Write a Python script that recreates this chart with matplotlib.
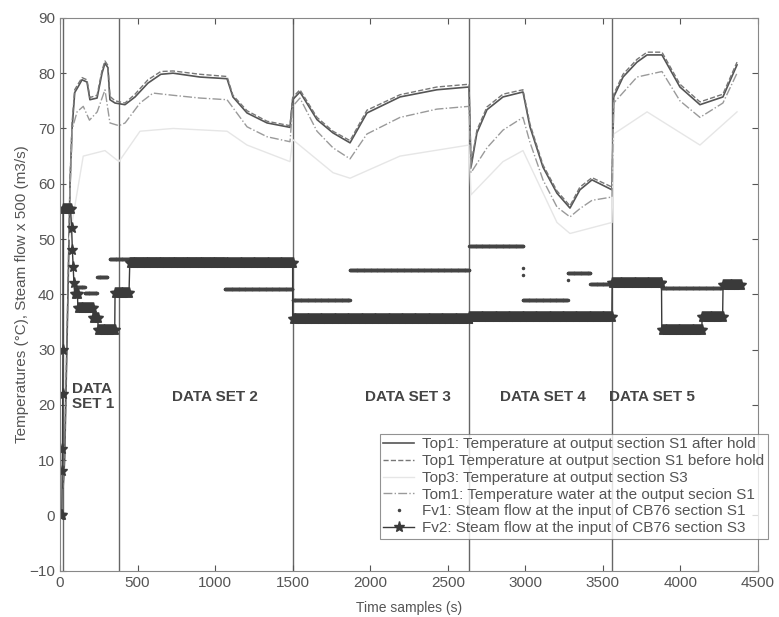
import matplotlib
matplotlib.use("Agg")
import matplotlib.pyplot as plt
import numpy as np

plt.rcParams['font.family'] = ['Liberation Sans', 'DejaVu Sans']

# --- temperatures ---
top1_t = [20, 30, 50, 65, 78, 95, 116, 142, 174, 193, 239, 271, 290, 309, 322, 355,
          419, 484, 567, 650, 729, 903, 1077, 1115, 1206, 1335, 1483,
          1500, 1547, 1657, 1760, 1870, 1979, 2192, 2430, 2637,
          2650, 2688, 2753, 2856, 2985, 3030, 3114, 3204, 3288, 3352, 3430, 3559,
          3570, 3630, 3720, 3785, 3881, 3997, 4126, 4274, 4365]
top1_after = [5, 10, 38, 60, 70, 76.5, 77.5, 78.8, 78.4, 75.2, 75.5, 80, 81.8, 81, 75.2, 74.6,
              74.3, 75.7, 78.2, 79.8, 80, 79.3, 79, 75.7, 72.8, 71, 70.2,
              75.2, 76.6, 71.6, 69.2, 67.4, 72.8, 75.7, 77, 77.5,
              63, 69.2, 73.4, 75.7, 76.6, 70.3, 63, 58.3, 55.6, 58.9, 60.7, 58.9,
              75.7, 79.3, 82, 83.3, 83.3, 77.5, 74.3, 75.7, 81.5]
top1_before = [5, 11, 39, 61, 71, 77, 78, 79.2, 78.8, 75.6, 76, 80.5, 82.2, 81.4, 75.8, 75,
               74.6, 76.2, 78.8, 80.3, 80.4, 79.8, 79.4, 76, 73.2, 71.3, 70.5,
               75.6, 77, 72, 69.5, 67.8, 73.3, 76.1, 77.5, 78,
               63.5, 69.7, 73.9, 76.2, 77, 70.8, 63.4, 58.7, 56, 59.4, 61.1, 59.4,
               76.2, 79.8, 82.5, 83.8, 83.8, 78, 74.8, 76.2, 82]

tom1_t = [60, 80, 110, 150, 190, 240, 290, 322, 380, 420, 516, 600, 729, 903, 1077,
          1206, 1335, 1483, 1500, 1547, 1657, 1760, 1870, 1979, 2192, 2430, 2637,
          2650, 2753, 2856, 2985, 3030, 3114, 3204, 3288, 3352, 3430, 3559,
          3570, 3720, 3881, 3997, 4126, 4274, 4365]
tom1 = [55, 70, 73, 74, 71.5, 73, 77, 71, 70.5, 71, 74.6, 76.4, 76, 75.5, 75.2,
        70.3, 68.5, 67.6, 74, 75.5, 69.5, 66.5, 64.5, 69, 72, 73.5, 74,
        62, 66.5, 69.7, 72, 67.5, 60.7, 55.8, 54, 55.5, 57, 57.6,
        74.6, 79.3, 80.3, 75, 72, 74.6, 80]

top3_t = [60, 150, 290, 380, 516, 729, 1077, 1206, 1483, 1500, 1760, 1870, 2192, 2637,
          2650, 2856, 2985, 3204, 3288, 3559, 3570, 3785, 4126, 4365]
top3 = [50, 65, 66, 64, 69.5, 70, 69.5, 67, 64, 68, 62, 61, 65, 67,
        58, 64, 66, 53, 51, 53, 69, 73, 67, 73]

# --- steam flows x 500: (start, end, value) steps ---
fv1_start = [0, 20, 97, 160, 240, 322, 1064, 1500, 1870, 2640, 2985, 3275, 3420, 3560, 3880, 4270]
fv1_end = [12, 75, 160, 240, 305, 1064, 1500, 1870, 2640, 2985, 3275, 3420, 3560, 3880, 4270, 4390]
fv1_val = [0, 55.8, 41.4, 40.3, 43.2, 46.3, 40.9, 39.0, 44.4, 48.8, 39.0, 43.9, 41.9, 42.0, 41.2, 41.7]
fv1_extra_t = [2985, 2985, 3275]
fv1_extra_v = [44.8, 43.5, 42.6]

fv2_start = [0, 14, 16, 18, 19, 20, 75, 80, 85, 90, 95, 115, 215, 245, 355, 450,
             1500, 2640, 3560, 3880, 4140, 4275]
fv2_end = [12, 14, 16, 18, 19, 70, 75, 80, 85, 90, 115, 215, 245, 355, 450, 1500,
           2640, 3560, 3880, 4140, 4275, 4390]
fv2_val = [0, 8, 12, 22, 30, 55.5, 52, 48, 45, 42, 40, 37.6, 35.7, 33.6, 40.2, 45.7,
           35.6, 35.9, 42.1, 33.6, 35.9, 41.7]

set_bounds = [20, 380, 1500, 2640, 3560]
set_labels = ["DATA\nSET 1", "DATA SET 2", "DATA SET 3", "DATA SET 4", "DATA SET 5"]
label_x = [75, 1000, 2245, 3115, 3815]
label_ha = ['left', 'center', 'center', 'center', 'center']


def steps(starts, ends, vals, dt):
    tt, vv = [], []
    for a, b, v in zip(starts, ends, vals):
        pts = np.arange(a, b + 0.1, dt) if b > a else np.array([a])
        tt.extend(pts)
        vv.extend([v] * len(pts))
    return np.array(tt), np.array(vv)


fig = plt.figure(figsize=(7.79, 6.17), dpi=100)
ax = fig.add_axes([0.077, 0.075, 0.896, 0.896])

for b in set_bounds:
    ax.axvline(b, color='#666666', lw=1.0, zorder=1)

l1, = ax.plot(top1_t, top1_after, '-', color='#555555', lw=1.2,
              label='Top1: Temperature at output section S1 after hold')
l2, = ax.plot(top1_t, top1_before, '--', color='#777777', lw=1.0,
              label='Top1 Temperature at output section S1 before hold')
l3, = ax.plot(top3_t, top3, '-', color='#e6e6e6', lw=1.0,
              label='Top3: Temperature at output section S3')
l4, = ax.plot(tom1_t, tom1, '-.', color='#9a9a9a', lw=1.0,
              label='Tom1: Temperature water at the output secion S1')

f1t, f1v = steps(fv1_start, fv1_end, fv1_val, 3)
f1t = np.concatenate([f1t, fv1_extra_t])
f1v = np.concatenate([f1v, fv1_extra_v])
l5, = ax.plot(f1t, f1v, '.', color='#444444', ms=3,
              label='Fv1: Steam flow at the input of CB76 section S1')
f2t, f2v = steps(fv2_start, fv2_end, fv2_val, 6)
l6, = ax.plot(f2t, f2v, '-*', color='#3a3a3a', lw=1.0, ms=8,
              label='Fv2: Steam flow at the input of CB76 section S3')

for x, s, ha in zip(label_x, set_labels, label_ha):
    ax.text(x, 21.5, s, ha=ha, va='center', fontsize=11,
            fontweight='bold', color='#444444', linespacing=1.15)

ax.set_xlim(0, 4500)
ax.set_ylim(-10, 90)
ax.set_xticks(np.arange(0, 4501, 500))
ax.set_yticks(np.arange(-10, 91, 10))
ax.tick_params(direction='in', top=True, right=True, labelsize=11,
               colors='#555555', length=4)
for sp in ax.spines.values():
    sp.set_color('#888888')
ax.set_xlabel('Time samples (s)', fontsize=10, color='#555555', labelpad=8)
ax.set_ylabel('Temperatures (°C), Steam flow x 500 (m3/s)', fontsize=11,
              color='#555555', labelpad=0)

leg = ax.legend(handles=[l1, l2, l3, l4, l5, l6], loc='upper left',
                bbox_to_anchor=(0.458, 0.248), fontsize=11, frameon=True,
                fancybox=False, edgecolor='#777777', borderpad=0.25,
                labelspacing=0.18, handlelength=2.0, handletextpad=0.5,
                borderaxespad=0)
for t in leg.get_texts():
    t.set_color('#555555')
leg.get_frame().set_linewidth(0.8)

fig.savefig('out.png', dpi=100)
